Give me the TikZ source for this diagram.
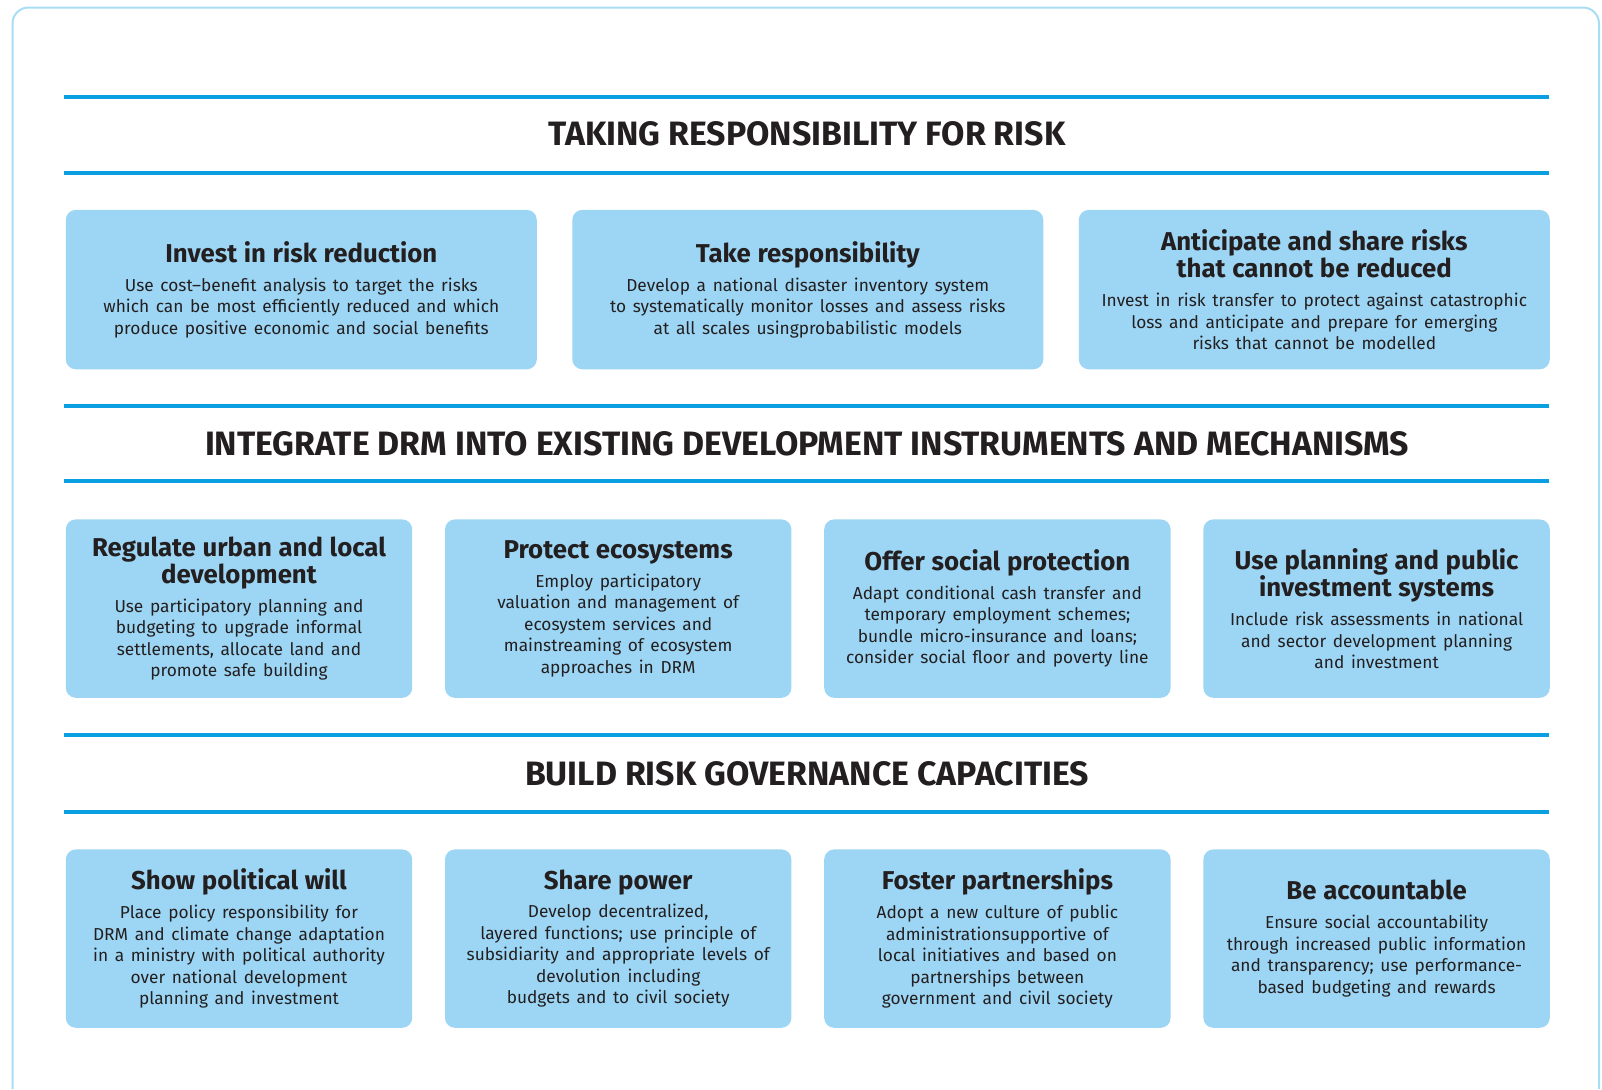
\documentclass[tikz,border=0pt]{standalone}
\usepackage{fontspec}
\setmainfont{Fira Sans}
\usetikzlibrary{positioning}

\definecolor{rulecyan}{HTML}{0A9FE0}
\definecolor{cardblue}{HTML}{9DD6F4}
\definecolor{framelight}{HTML}{A9DCF5}
\definecolor{inkdark}{HTML}{231F20}

% title and body of one card
\newcommand{\cardtext}[2]{{\fontsize{12.9}{13.8}\selectfont\bfseries #1\par}\vspace{3.6pt}{\fontsize{8.65}{10.75}\selectfont #2\par}}

\begin{document}
\begin{tikzpicture}[x=0.5pt,y=-0.5pt,
    rule/.style={rulecyan, line width=2.1pt},
    header/.style={font=\fontsize{16.9}{19}\selectfont\bfseries, text=inkdark},
    card/.style={fill=cardblue, rounded corners=5pt, inner sep=0pt, text=inkdark, align=center},
    wide/.style={card, minimum width=235.5pt, text width=235.5pt, minimum height=79.7pt},
    narrow/.style={card, minimum width=173.2pt, text width=173.2pt, minimum height=89.2pt}]
    \useasboundingbox (0,0) rectangle (1602,1089);

    % Outer frame, open at the bottom
    \draw[framelight, line width=1pt, rounded corners=8pt] (12.5,1089) -- (12.5,7.5) -- (1599,7.5) -- (1599,1089);

    % Blue rules above and below each heading
    \foreach \y in {97,172.7,405.6,481.2,734.6,812.3}
        \draw[rule] (64.4,\y) -- (1549,\y);

    % Headings
    \node[header] (takehead) at (807,134) {TAKING RESPONSIBILITY FOR RISK};
    \node[header] (drmhead) at (807,444) {INTEGRATE DRM INTO EXISTING DEVELOPMENT INSTRUMENTS AND MECHANISMS};
    \node[header] (govhead) at (807,773.5) {BUILD RISK GOVERNANCE CAPACITIES};

    % First row
    \node[wide, anchor=north west] (invest) at (65.4,209.5) {\cardtext{Invest in risk reduction}{Use cost–benefit analysis to target the risks\\which can be most efficiently reduced and which\\produce positive economic and social benefits}};
    \node[wide, right=17.35pt of invest] (takeresp) {\cardtext{Take responsibility}{Develop a national disaster inventory system\\to systematically monitor losses and assess risks\\at all scales usingprobabilistic models}};
    \node[wide, right=17.35pt of takeresp] (anticip) {\cardtext{Anticipate and share risks\\that cannot be reduced}{Invest in risk transfer to protect against catastrophic\\loss and anticipate and prepare for emerging\\risks that cannot be modelled}};

    % Second row
    \node[narrow, anchor=north west] (regulate) at (65.4,519) {\cardtext{Regulate urban and local\\development}{Use participatory planning and\\budgeting to upgrade informal\\settlements, allocate land and\\promote safe building}};
    \node[narrow, right=16pt of regulate] (ecosys) {\cardtext{Protect ecosystems}{Employ participatory\\valuation and management of\\ecosystem services and\\mainstreaming of ecosystem\\approaches in DRM}};
    \node[narrow, right=16pt of ecosys] (social) {\cardtext{Offer social protection}{Adapt conditional cash transfer and\\temporary employment schemes;\\bundle micro-insurance and loans;\\consider social floor and poverty line}};
    \node[narrow, right=16pt of social] (planning) {\cardtext{Use planning and public\\investment systems}{Include risk assessments in national\\and sector development planning\\and investment}};

    % Third row
    \node[narrow, anchor=north west] (polwill) at (65.4,849) {\cardtext{Show political will}{Place policy responsibility for\\DRM and climate change adaptation\\in a ministry with political authority\\over national development\\planning and investment}};
    \node[narrow, right=16pt of polwill] (power) {\cardtext{Share power}{Develop decentralized,\\layered functions; use principle of\\subsidiarity and appropriate levels of\\devolution including\\budgets and to civil society}};
    \node[narrow, right=16pt of power] (partner) {\cardtext{Foster partnerships}{Adopt a new culture of public\\administrationsupportive of\\local initiatives and based on\\partnerships between\\government and civil society}};
    \node[narrow, right=16pt of partner] (account) {\cardtext{Be accountable}{Ensure social accountability\\through increased public information\\and transparency; use performance-\\based budgeting and rewards}};
\end{tikzpicture}
\end{document}
